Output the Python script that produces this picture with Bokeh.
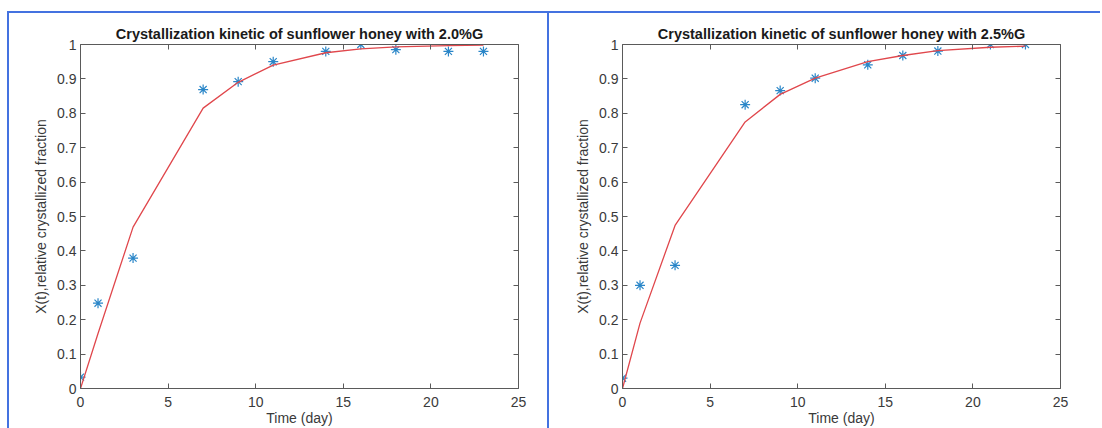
from bokeh.plotting import figure
from bokeh.models import LinearAxis, FixedTicker, Range1d
from bokeh.layouts import row
from bokeh.embed import file_html
from bokeh.resources import INLINE

# ---- data ----
days = [0, 1, 3, 7, 9, 11, 14, 16, 18, 21, 23]

exp_20 = [0.033, 0.248, 0.379, 0.869, 0.892, 0.950, 0.980, 1.000, 0.985, 0.980, 0.980]
fit_20 = [0.0, 0.160, 0.469, 0.815, 0.890, 0.940, 0.976, 0.987, 0.993, 0.997, 0.998]

exp_25 = [0.030, 0.300, 0.358, 0.825, 0.866, 0.902, 0.941, 0.968, 0.981, 1.000, 1.000]
fit_25 = [0.0, 0.190, 0.474, 0.775, 0.855, 0.902, 0.950, 0.968, 0.982, 0.992, 0.995]

titles = ["Crystallization kinetic of sunflower honey with 2.0%G",
          "Crystallization kinetic of sunflower honey with 2.5%G"]
x_label = "Time (day)"
y_label = "X(t),relative crystallized fraction"

x_ticks = [0, 5, 10, 15, 20, 25]
y_ticks = [0, 0.1, 0.2, 0.3, 0.4, 0.5, 0.6, 0.7, 0.8, 0.9, 1.0]
y_tick_labels = {0: "0", 1: "1"}

FONT = "Liberation Sans"
AXIS_COL = "#5a5a5a"
TEXT_COL = "#3a3a3a"
FRAME_BLUE = "#4472e0"
STAR_COL = "#2a86c8"
LINE_COL = "#e0474c"

FRAME_W = 438
FRAME_H = 344
FIG_H = 428
TOP_B = 44


def style_axis(ax, labels=True):
    ax.axis_line_color = AXIS_COL
    ax.axis_line_width = 1
    ax.major_tick_line_color = AXIS_COL
    ax.major_tick_in = 5
    ax.major_tick_out = 0
    ax.minor_tick_line_color = None
    ax.major_label_text_font = FONT
    if labels:
        ax.major_label_text_font_size = "14px"
        ax.major_label_text_color = TEXT_COL
    else:
        ax.major_label_text_font_size = "1px"
        ax.major_label_text_color = None
        ax.major_label_standoff = 0


def frame_css(left_px):
    return (":host{position:relative;}"
            ":host::after{content:'';position:absolute;left:%dpx;top:11px;"
            "right:0;bottom:0;border-left:2px solid %s;"
            "border-top:2px solid %s;pointer-events:none;z-index:5;}"
            % (left_px, FRAME_BLUE, FRAME_BLUE))


def make_panel(title, exp, fit, width, left_border, frame_left):
    p = figure(width=width, height=FIG_H,
               x_range=Range1d(0, 25), y_range=Range1d(0, 1),
               output_backend="svg", toolbar_location=None,
               min_border_left=left_border,
               min_border_right=width - left_border - FRAME_W,
               min_border_top=TOP_B,
               min_border_bottom=FIG_H - TOP_B - FRAME_H)
    p.grid.visible = False
    p.outline_line_color = None
    p.background_fill_color = "white"
    p.border_fill_color = "white"

    p.title.text = title
    p.title.align = "center"
    p.title.text_font = FONT
    p.title.text_font_size = "14.5px"
    p.title.text_font_style = "bold"
    p.title.text_color = "#1a1a1a"
    p.title.standoff = 6

    xb = p.xaxis[0]
    yl = p.yaxis[0]
    xb.ticker = FixedTicker(ticks=x_ticks)
    yl.ticker = FixedTicker(ticks=y_ticks)
    style_axis(xb)
    style_axis(yl)
    xb.major_label_standoff = 8
    xb.axis_label = x_label
    xb.axis_label_standoff = 0
    yl.major_label_standoff = 4
    yl.major_label_overrides = y_tick_labels
    yl.axis_label = y_label
    yl.axis_label_standoff = 5
    for ax in (xb, yl):
        ax.axis_label_text_font = FONT
        ax.axis_label_text_font_size = "14px"
        ax.axis_label_text_font_style = "normal"
        ax.axis_label_text_color = TEXT_COL

    top = LinearAxis(ticker=FixedTicker(ticks=x_ticks))
    right = LinearAxis(ticker=FixedTicker(ticks=y_ticks))
    style_axis(top, labels=False)
    style_axis(right, labels=False)
    p.add_layout(top, "above")
    p.add_layout(right, "right")

    p.scatter(days, exp, marker="asterisk", size=10,
              line_color=STAR_COL, line_width=1.2)
    p.line(days, fit, line_color=LINE_COL, line_width=1.3)

    p.stylesheets = [frame_css(frame_left)]
    return p


p1 = make_panel(titles[0], exp_20, fit_20, 547, 80, 7)
p2 = make_panel(titles[1], exp_25, fit_25, 553, 75, 0)

layout = row(p1, p2)
open("out.html", "w").write(file_html(layout, INLINE))
